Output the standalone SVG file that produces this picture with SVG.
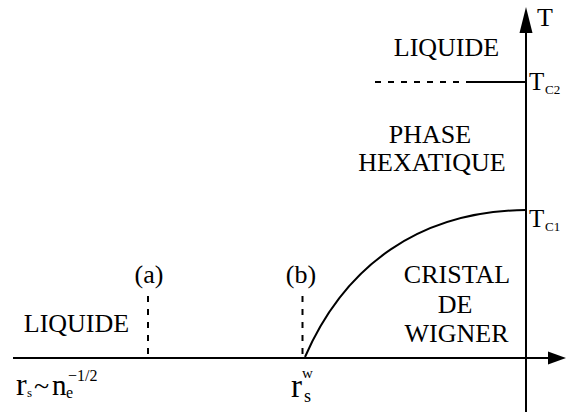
<svg xmlns="http://www.w3.org/2000/svg" width="566" height="420" viewBox="0 0 566 420">
<style>
text{font-family:"Liberation Serif","Times New Roman",serif;fill:#000}
.lbl{font-size:26px;text-anchor:middle}
.ax{stroke:#000;stroke-width:2;fill:none}
.dash{stroke:#000;stroke-width:2;fill:none;stroke-dasharray:6 7}
</style>
<rect width="566" height="420" fill="#fff"/>
<g id="connectors">
<line class="ax" x1="13" y1="358" x2="552" y2="358"/>
<polygon points="566,358 548,351.5 548,364.5" fill="#000"/>
<line class="ax" x1="526" y1="412" x2="526" y2="30"/>
<polygon points="526,7 519.5,33 532.5,33" fill="#000"/>
<path class="ax" d="M305,357 C345,265 420,211 526,210"/>
<line class="dash" x1="375" y1="82" x2="470" y2="82"/>
<line class="ax" x1="468" y1="82" x2="526" y2="82"/>
<line class="dash" x1="148" y1="296" x2="148" y2="358"/>
<line class="dash" x1="302.5" y1="296" x2="302.5" y2="358"/>
</g>
<g id="liquide-top"><text class="lbl" x="446.5" y="56">LIQUIDE</text></g>
<g id="phase-hexatique"><text class="lbl" x="430" y="143" font-size="25">PHASE</text><text class="lbl" x="432" y="171">HEXATIQUE</text></g>
<g id="cristal"><text class="lbl" x="457" y="283">CRISTAL</text><text class="lbl" x="455" y="313">DE</text><text class="lbl" x="456.5" y="342">WIGNER</text></g>
<g id="liquide-left"><text class="lbl" x="76.5" y="332">LIQUIDE</text></g>
<g id="label-a"><text class="lbl" x="149" y="283">(a)</text></g>
<g id="label-b"><text class="lbl" x="301" y="283">(b)</text></g>
<g id="axis-T"><text x="537" y="26" font-size="26">T</text></g>
<g id="Tc2"><text x="529" y="90" font-size="25">T</text><text x="545" y="94" font-size="13">C2</text></g>
<g id="Tc1"><text x="529" y="227" font-size="25">T</text><text x="545" y="231" font-size="13">C1</text></g>
<g id="rs-ne"><text x="16" y="395" font-size="32">r</text><text x="27" y="397" font-size="13">s</text><text x="34" y="395" font-size="28">~</text><text x="52" y="395" font-size="29">n</text><text x="66" y="398" font-size="16">e</text><text x="68" y="381" font-size="16">−1/2</text></g>
<g id="rs-w"><text x="291" y="397" font-size="33">r</text><text x="302" y="378" font-size="15">w</text><text x="304" y="402" font-size="18">s</text></g>
</svg>
